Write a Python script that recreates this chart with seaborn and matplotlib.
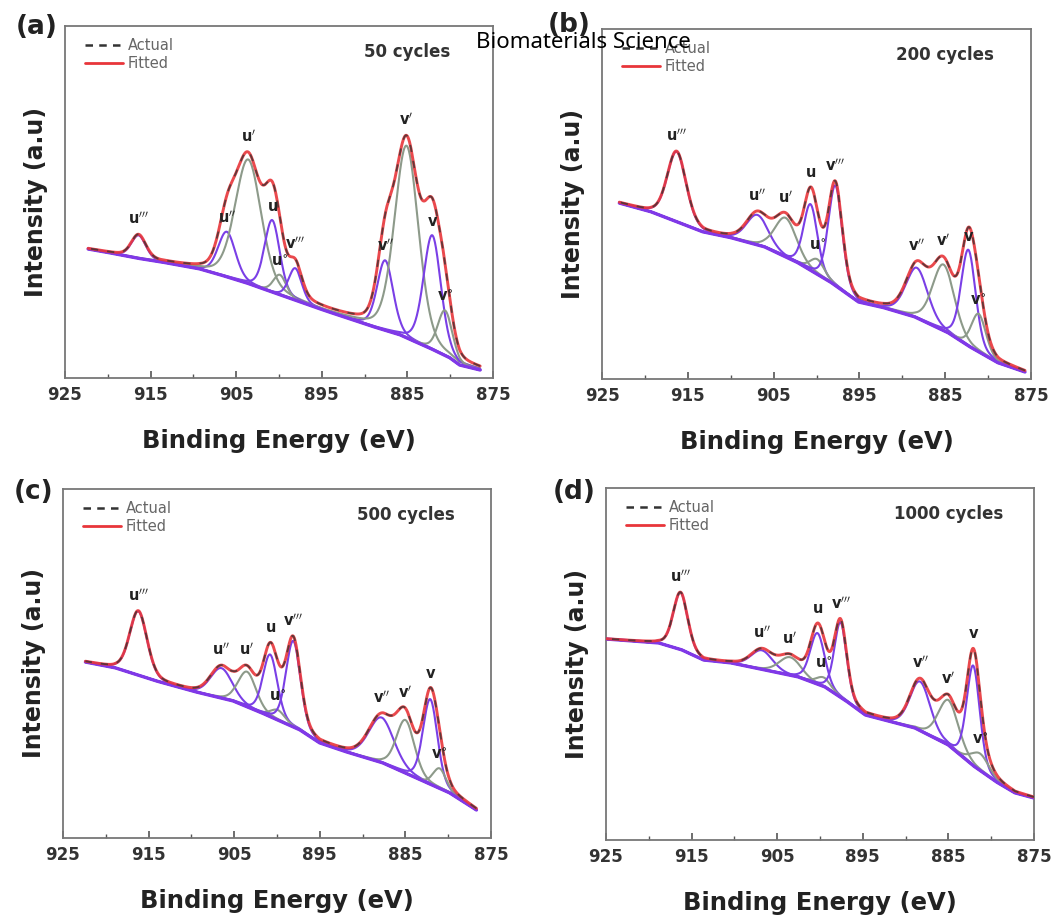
import numpy as np
import matplotlib
matplotlib.use("Agg")
import matplotlib.pyplot as plt
from matplotlib.lines import Line2D
from matplotlib.ticker import MultipleLocator
import seaborn as sns

# ---------------- data ----------------
x_ticks = [925, 915, 905, 895, 885, 875]
panel_letters = ["(a)", "(b)", "(c)", "(d)"]
cycle_labels = ["50 cycles", "200 cycles", "500 cycles", "1000 cycles"]
peak_names = [r"$\mathbf{u'''}$", r"$\mathbf{u''}$", r"$\mathbf{u'}$", r"$\mathbf{u}$",
              r"$\mathbf{u^{\circ}}$", r"$\mathbf{v'''}$", r"$\mathbf{v''}$",
              r"$\mathbf{v'}$", r"$\mathbf{v}$", r"$\mathbf{v^{\circ}}$"]
peak_kinds = ["P", "P", "G", "P", "G", "P", "P", "G", "P", "G"]

# panel (a) 50 cycles
a_bg_ev = [922.3, 919.0, 916.0, 913.0, 909.2, 906.0, 903.4, 900.5, 897.5, 894.5,
           891.3, 888.5, 885.8, 883.5, 881.9, 880.0, 878.9, 876.5]
a_bg_int = [129, 124, 119, 115, 109, 101, 94, 85, 76, 67, 58, 50, 43, 34, 28, 20, 13, 8]
a_centers = [916.4, 906.1, 903.6, 900.8, 899.9, 898.1, 887.6, 885.1, 882.1, 880.6]
a_heights = [23, 45, 124, 72, 20, 32, 70, 192, 114, 45]
a_fwhm = [2.0, 2.4, 3.6, 2.1, 1.8, 1.8, 2.2, 3.3, 2.4, 2.0]

# panel (b) 200 cycles
b_bg_ev = [923.0, 919.2, 913.2, 909.8, 906.0, 902.1, 898.2, 895.1, 892.0, 888.5,
           884.6, 881.9, 878.8, 875.7]
b_bg_int = [176, 167, 147, 141, 132, 116, 96, 77, 71, 62, 46, 31, 16, 7]
b_centers = [916.3, 906.9, 903.6, 900.7, 899.9, 897.8, 888.3, 885.2, 882.3, 881.1]
b_heights = [70, 30, 39, 66, 15, 100, 50, 66, 96, 38]
b_fwhm = [2.6, 3.0, 3.0, 1.9, 2.0, 1.9, 3.0, 3.0, 2.0, 2.0]

# panel (c) 500 cycles
c_bg_ev = [922.4, 918.8, 913.7, 909.0, 905.1, 901.2, 897.3, 895.0, 891.5, 887.6,
           883.7, 879.8, 876.7]
c_bg_int = [176, 170, 156, 145, 137, 123, 108, 95, 85, 75, 60, 45, 28]
c_centers = [916.2, 906.5, 903.5, 900.8, 899.9, 898.1, 887.8, 885.0, 882.1, 881.0]
c_heights = [64, 30, 35, 62, 10, 86, 45, 53, 85, 20]
c_fwhm = [2.4, 3.0, 2.5, 2.0, 2.0, 2.0, 3.5, 2.5, 2.0, 1.8]

# panel (d) 1000 cycles
d_bg_ev = [925.0, 918.8, 916.1, 913.6, 910.3, 906.4, 902.5, 899.4, 896.6, 894.7,
           891.6, 888.9, 885.0, 881.9, 879.2, 877.2, 875.0]
d_bg_int = [201, 197, 190, 180, 177, 170, 163, 153, 137, 125, 118, 112, 95, 73, 57, 47, 42]
d_centers = [916.3, 906.8, 903.5, 900.3, 899.6, 897.6, 888.3, 885.0, 882.1, 881.3]
d_heights = [57, 19, 18, 51, 9, 75, 49, 45, 100, 17]
d_fwhm = [2.0, 3.0, 3.0, 2.0, 2.0, 1.7, 2.8, 2.8, 1.8, 2.5]

panels = [
    dict(bg_ev=a_bg_ev, bg_int=a_bg_int, c=a_centers, h=a_heights, w=a_fwhm, ymax=352),
    dict(bg_ev=b_bg_ev, bg_int=b_bg_int, c=b_centers, h=b_heights, w=b_fwhm, ymax=350),
    dict(bg_ev=c_bg_ev, bg_int=c_bg_int, c=c_centers, h=c_heights, w=c_fwhm, ymax=349),
    dict(bg_ev=d_bg_ev, bg_int=d_bg_int, c=d_centers, h=d_heights, w=d_fwhm, ymax=352),
]

# ---------------- style ----------------
sns.set_theme(style="ticks")
plt.rcParams["font.family"] = ["DejaVu Sans"]
PURPLE = "#7a3fe6"
BASE = "#8038e8"
GRAYC = "#8d9a8a"
RED = "#e8353a"
ETA = 0.25


def peak(x, c, h, w):
    s = w / 2.3548
    g = np.exp(-0.5 * ((x - c) / s) ** 2)
    lor = 1.0 / (1.0 + ((x - c) / (w / 2.0)) ** 2)
    return h * ((1 - ETA) * g + ETA * lor)


W, H = 1064, 919
fig = plt.figure(figsize=(W / 100, H / 100), dpi=100)
boxes = [(65, 26, 493, 378), (602, 29, 1031, 379), (63, 489, 491, 838), (606, 488, 1034, 840)]
axes = [fig.add_axes([l / W, 1 - b / H, (r - l) / W, (b - t) / H]) for (l, t, r, b) in boxes]

for i, (ax, p) in enumerate(zip(axes, panels)):
    start, end = p["bg_ev"][0], p["bg_ev"][-1]
    x = np.arange(end, start + 1e-6, 0.04)
    bg = np.interp(x, p["bg_ev"][::-1], p["bg_int"][::-1])
    comps = [peak(x, c, h, w) for c, h, w in zip(p["c"], p["h"], p["w"])]
    env = bg + np.sum(comps, axis=0)

    for comp, kind in zip(comps, peak_kinds):
        sns.lineplot(x=x, y=bg + comp, color=PURPLE if kind == "P" else GRAYC,
                     lw=1.5, ax=ax, sort=False, errorbar=None, zorder=2)
    sns.lineplot(x=x, y=bg, color=BASE, lw=2.4, ax=ax, sort=False, errorbar=None, zorder=3)
    sns.lineplot(x=x, y=env, color=RED, lw=2.1, alpha=0.9, ax=ax, sort=False,
                 errorbar=None, zorder=4)
    sns.lineplot(x=x, y=env, color="#333333", lw=1.3, alpha=0.75, ax=ax, sort=False,
                 errorbar=None, zorder=5, linestyle=(0, (4, 5)))

    # peak labels
    for name, c, h, comp in zip(peak_names, p["c"], p["h"], comps):
        j = np.argmin(np.abs(x - c))
        top = bg[j] + comp[j]
        e = env[j]
        y = e + 7 if (e - top) < 22 else top + 6
        ax.text(c, y, name, ha="center", va="bottom", fontsize=10.5, color="#222222",
                zorder=6)

    ax.set_xlim(925, 875)
    ax.set_ylim(0, p["ymax"])
    ax.set_yticks([])
    ax.set_xticks(x_ticks)
    ax.xaxis.set_minor_locator(MultipleLocator(5))
    ax.tick_params(axis="x", which="major", direction="in", length=5, width=1.2,
                   color="#555555", pad=6, labelsize=12)
    ax.tick_params(axis="x", which="minor", direction="in", length=3, width=1.0,
                   color="#555555")
    for lab in ax.get_xticklabels():
        lab.set_fontweight("bold")
        lab.set_color("#333333")
    for s in ax.spines.values():
        s.set_color("#777777")
        s.set_linewidth(1.3)
    ax.set_xlabel("Binding Energy (eV)", fontsize=17.5, fontweight="bold", color="#222222",
                  labelpad=18)
    ax.set_ylabel("Intensity (a.u)", fontsize=17, fontweight="bold", color="#222222",
                  labelpad=12)
    ax.text(0.80, 0.925, cycle_labels[i], transform=ax.transAxes, ha="center",
            va="center", fontsize=12, fontweight="bold", color="#333333")
    handles = [Line2D([], [], color="#333333", lw=1.8, linestyle=(0, (3, 2.5))),
               Line2D([], [], color=RED, lw=2.0)]
    ax.legend(handles, ["Actual", "Fitted"], loc="upper left", bbox_to_anchor=(0.02, 1.0),
              frameon=False, fontsize=10.5, labelcolor="#666666", handlelength=2.6,
              handletextpad=0.3, labelspacing=0.25, borderaxespad=0.4)

letter_pos = [(37, 27), (569, 25), (34, 492), (574, 492)]
for lbl, (lx, ly) in zip(panel_letters, letter_pos):
    fig.text(lx / W, 1 - ly / H, lbl, ha="center", va="center", fontsize=19,
             fontweight="bold", color="#222222")

fig.text(583 / W, 1 - 42 / H, "Biomaterials Science", ha="center", va="center",
         fontsize=16, family=["Noto Sans", "DejaVu Sans"], color="black", zorder=10)

fig.savefig("out.png", dpi=100)
